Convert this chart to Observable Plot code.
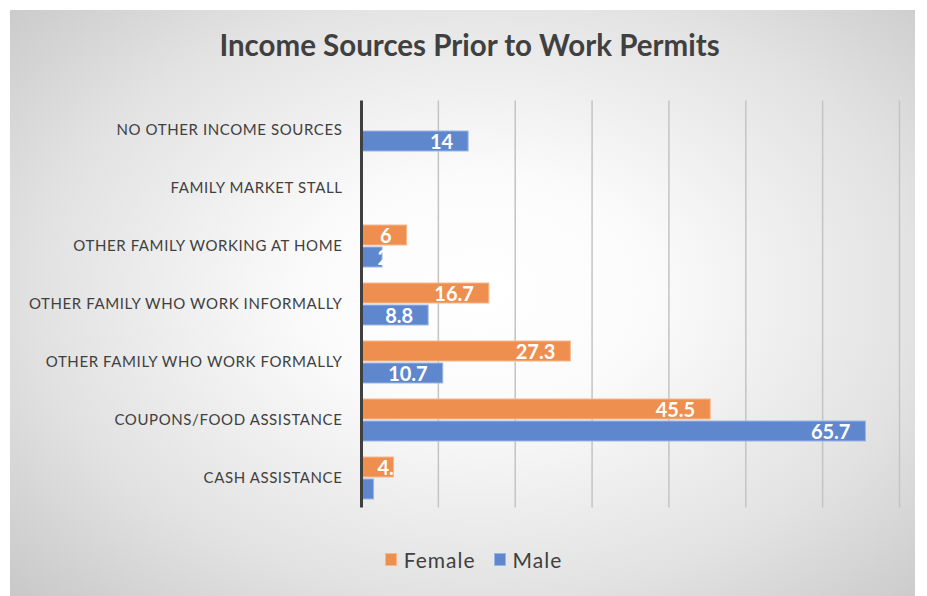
<!DOCTYPE html>
<html>
<head>
<meta charset="utf-8">
<script src="https://cdn.jsdelivr.net/npm/d3@7"></script>
<script src="https://cdn.jsdelivr.net/npm/@observablehq/plot@0.6"></script>
<style>
  html, body { margin: 0; padding: 0; background: #ffffff; }
  #page { position: relative; width: 927px; height: 596px; overflow: hidden; background: #ffffff; font-family: Lato, "Open Sans", sans-serif; }
  #panel { position: absolute; left: 10px; top: 10px; width: 905px; height: 586px;
    background: radial-gradient(ellipse 75% 80% at 52% 48%, #ffffff 0%, #fbfbfb 25%, #e2e2e2 65%, #c4c4c4 100%); }
  #title { position: absolute; left: 17px; width: 905px; top: 27px; text-align: center; font-size: 29.5px; font-weight: 700; color: #404040; }
  #chart { position: absolute; left: 10px; top: 90px; }
  #chart [aria-label^="fy-axis"] text { letter-spacing: 0.6px; }
  #legend { position: absolute; left: 21px; width: 905px; top: 545px; text-align: center; font-size: 21px; letter-spacing: 1px; color: #404040; }
  #legend span.item { display: inline-flex; align-items: center; margin: 0 9px; }
  #legend span.sw { display: inline-block; width: 10px; height: 11px; margin-right: 7px; border: 1px solid; }
</style>
</head>
<body>
<div id="page">
  <div id="panel"></div>
  <div id="title">Income Sources Prior to Work Permits</div>
  <div id="chart"></div>
  <div id="legend"></div>
</div>
<script>
const categories = [
  "NO OTHER INCOME SOURCES",
  "FAMILY MARKET STALL",
  "OTHER FAMILY WORKING AT HOME",
  "OTHER FAMILY WHO WORK INFORMALLY",
  "OTHER FAMILY WHO WORK FORMALLY",
  "COUPONS/FOOD ASSISTANCE",
  "CASH ASSISTANCE"
];
const series = ["Female", "Male"];
const femaleValues = [0, 0, 6, 16.7, 27.3, 45.5, 4.3];
const maleValues = [14, 0, 2.8, 8.8, 10.7, 65.7, 1.7];
const femaleLabels = ["", "", "6", "16.7", "27.3", "45.5", "4."];
const maleLabels = ["14", "", "2", "8.8", "10.7", "65.7", ""];
const gridTicks = [10, 20, 30, 40, 50, 60, 70];
const colors = { Female: "#ee8f4f", Male: "#5f87cd" };
const borders = { Female: "#f6b88d", Male: "#9bb5e4" };

const data = [];
categories.forEach((c, i) => {
  data.push({ category: c, sex: "Female", value: femaleValues[i], label: femaleLabels[i] });
  data.push({ category: c, sex: "Male", value: maleValues[i], label: maleLabels[i] });
});
const shown = data.filter(d => d.value > 0);
const wide = shown.filter(d => d.value >= 5);
const narrow = shown.filter(d => d.value < 5 && d.label);
const gridRows = d3.cross(categories, gridTicks).map(([c, t]) => ({ category: c, tick: t }));

const chart = Plot.plot({
  width: 905,
  height: 430,
  marginLeft: 351,
  marginRight: 16,
  marginTop: 9.5,
  marginBottom: 11.5,
  style: { background: "transparent", color: "#404040", fontFamily: "Lato, 'Open Sans', sans-serif" },
  x: { domain: [0, 70], axis: null },
  y: { domain: series, axis: null, paddingInner: 0.044, paddingOuter: 0.32 },
  fy: { domain: categories, padding: 0, label: null },
  marks: [
    Plot.ruleX(gridRows, { fy: "category", x: "tick", stroke: "#c4c4c4", strokeWidth: 1.5, insetTop: -0.5, insetBottom: -0.5 }),
    Plot.barX(shown, { fy: "category", y: "sex", x: "value", fill: d => colors[d.sex], stroke: d => borders[d.sex], strokeWidth: 1, inset: 0.5 }),
    Plot.text(wide, { fy: "category", y: "sex", x: "value", text: "label", textAnchor: "end", dx: -16, fill: "white", fontWeight: "bold", fontSize: 20, dy: 1 }),
    Plot.text(narrow, { fy: "category", y: "sex", x: 0, text: "label", textAnchor: "start", dx: 16, fill: "white", fontWeight: "bold", fontSize: 20, dy: 1 }),
    Plot.ruleX(categories, { fy: d => d, x: () => 0, stroke: "#404040", strokeWidth: 3, insetTop: -0.5, insetBottom: -0.5 }),
    Plot.axisFy({ anchor: "left", tickSize: 0, tickPadding: 19, fontSize: 15, label: null, fill: "#404040" })
  ]
});
document.getElementById("chart").appendChild(chart);

const legend = document.getElementById("legend");
series.forEach(s => {
  const item = document.createElement("span");
  item.className = "item";
  const sw = document.createElement("span");
  sw.className = "sw";
  sw.style.background = colors[s];
  sw.style.borderColor = borders[s];
  item.appendChild(sw);
  item.appendChild(document.createTextNode(s));
  legend.appendChild(item);
});
</script>
</body>
</html>
